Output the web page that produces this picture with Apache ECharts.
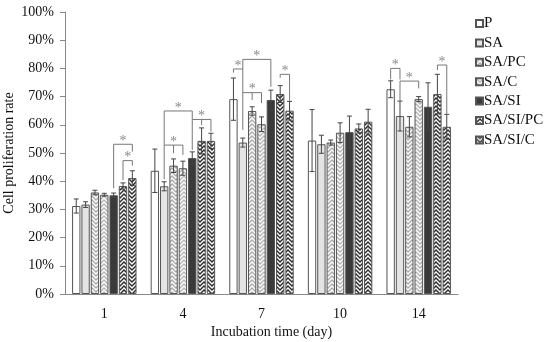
<!DOCTYPE html>
<html><head><meta charset="utf-8">
<script src="https://cdn.jsdelivr.net/npm/echarts@6/dist/echarts.min.js"></script>
<style>html,body{margin:0;padding:0;background:#fff}#c{width:550px;height:342px}</style>
</head><body><div id="c"></div>
<script>
// ---- data ----
const categories = ['1', '4', '7', '10', '14'];
const seriesNames = ['P', 'SA', 'SA/PC', 'SA/C', 'SA/SI', 'SA/SI/PC', 'SA/SI/C'];
const P        = [31.2, 43.7, 69.1, 54.4, 72.6];
const SA       = [31.7, 38.2, 53.7, 53.1, 63.1];
const SA_PC    = [36.0, 45.5, 64.9, 53.7, 59.3];
const SA_C     = [35.2, 44.6, 60.2, 57.2, 69.1];
const SA_SI    = [35.0, 48.2, 68.8, 57.4, 66.4];
const SA_SI_PC = [38.3, 54.3, 70.9, 58.7, 70.9];
const SA_SI_C  = [41.1, 54.3, 65.0, 61.1, 59.3];
const P_err        = [2.5, 7.7, 7.5, 11.0, 3.0];
const SA_err       = [1.0, 1.6, 1.6, 3.2, 5.3];
const SA_PC_err    = [0.8, 2.4, 1.5, 0.9, 3.6];
const SA_C_err     = [0.5, 2.5, 2.6, 3.5, 0.9];
const SA_SI_err    = [0.8, 2.2, 3.5, 5.7, 8.5];
const SA_SI_PC_err = [1.1, 4.6, 3.0, 1.6, 7.0];
const SA_SI_C_err  = [2.6, 2.7, 3.3, 4.4, 4.4];
const yTicks = [0, 10, 20, 30, 40, 50, 60, 70, 80, 90, 100];
// significance brackets: category index, series legs, top value, leg bottom values
const bracketCats    = [0, 0, 1, 1, 1, 2, 2, 2, 2, 4, 4, 4];
const bracketLegs    = [[4, 6], [5, 6], [1, 4], [1, 2, 3], [4, 5, 6], [0, 1], [1, 4], [1, 2, 3], [5, 6], [0, 1], [1, 3], [5, 6]];
const bracketTops    = [53.1, 47.3, 64.9, 52.8, 61.9, 79.8, 83.2, 71.4, 77.9, 80.0, 75.5, 81.2];
const bracketBottoms = [[37.5, 50.5], [40.4, 45.5], [52.8, 61.9], [40.7, 49.9, 49.3], [51.1, 59.9, 57.6],
                        [78.5, 58.2], [79.8, 73.5], [71.4, 68.8, 67.7], [76.7, 68.5],
                        [76.1, 76.1], [68.2, 72.9], [79.4, 63.5]];

const values = [P, SA, SA_PC, SA_C, SA_SI, SA_SI_PC, SA_SI_C];
const errors = [P_err, SA_err, SA_PC_err, SA_C_err, SA_SI_err, SA_SI_PC_err, SA_SI_C_err];

// ---- patterns ----
function chevron(bg, fg, up) {
  const c = document.createElement('canvas');
  c.width = 8; c.height = 4;
  const ctx = c.getContext('2d');
  ctx.fillStyle = bg; ctx.fillRect(0, 0, 8, 4);
  ctx.strokeStyle = fg; ctx.lineWidth = 1.4;
  for (const dy of [-4, 0, 4]) {
    ctx.beginPath();
    if (up) { ctx.moveTo(-1, 5 + dy); ctx.lineTo(4, dy); ctx.lineTo(9, 5 + dy); }
    else { ctx.moveTo(-1, -1 + dy); ctx.lineTo(4, 4 + dy); ctx.lineTo(9, -1 + dy); }
    ctx.stroke();
  }
  return { image: c, repeat: 'repeat' };
}
const fills = [
  '#ffffff',
  '#e4e4e4',
  chevron('#ffffff', '#a8a8a8', true),
  chevron('#ffffff', '#b4b4b4', false),
  '#3a3a3a',
  chevron('#2e2e2e', '#ffffff', true),
  chevron('#2e2e2e', '#ffffff', false)
];

const CAT_GAP = 0.18, BAR_GAP = 0.12, N = seriesNames.length;
function barOffset(band, s) {
  const usable = band * (1 - CAT_GAP);
  const bw = usable / (N + (N - 1) * BAR_GAP);
  return -usable / 2 + s * bw * (1 + BAR_GAP) + bw / 2;
}

const FONT = 'Liberation Serif';
const series = seriesNames.map((name, s) => ({
  name, type: 'bar', data: values[s],
  barCategoryGap: (CAT_GAP * 100) + '%', barGap: (BAR_GAP * 100) + '%',
  itemStyle: { color: fills[s], borderColor: '#555', borderWidth: 1 },
  z: 2
}));

const errData = [];
values.forEach((arr, s) => arr.forEach((v, c) => errData.push([c, v, errors[s][c], s])));
series.push({
  type: 'custom', name: 'err', z: 5, silent: true, data: errData,
  renderItem(params, api) {
    const c = api.value(0), v = api.value(1), e = api.value(2), s = api.value(3);
    const band = api.size([1, 0])[0];
    const x = api.coord([c, 0])[0] + barOffset(band, s);
    const yh = api.coord([c, v + e])[1], yl = api.coord([c, v - e])[1];
    const st = { stroke: '#444', lineWidth: 1 };
    return { type: 'group', children: [
      { type: 'line', shape: { x1: x, y1: yh, x2: x, y2: yl }, style: st },
      { type: 'line', shape: { x1: x - 2.5, y1: yh, x2: x + 2.5, y2: yh }, style: st },
      { type: 'line', shape: { x1: x - 2.5, y1: yl, x2: x + 2.5, y2: yl }, style: st }
    ]};
  }
});
series.push({
  type: 'custom', name: 'sig', z: 6, silent: true,
  data: bracketCats.map((c, i) => [c, bracketTops[i]]),
  renderItem(params, api) {
    const i = params.dataIndex, c = bracketCats[i];
    const band = api.size([1, 0])[0];
    const cx = api.coord([c, 0])[0];
    const yTop = api.coord([c, bracketTops[i]])[1];
    const xs = bracketLegs[i].map(s => cx + barOffset(band, s));
    const st = { stroke: '#777', lineWidth: 1 };
    const ch = [{ type: 'line', shape: { x1: xs[0], y1: yTop, x2: xs[xs.length - 1], y2: yTop }, style: st }];
    xs.forEach((x, k) => {
      const yb = api.coord([c, bracketBottoms[i][k]])[1];
      ch.push({ type: 'line', shape: { x1: x, y1: yTop, x2: x, y2: yb }, style: st });
    });
    ch.push({ type: 'text', style: { text: '*', x: (xs[0] + xs[xs.length - 1]) / 2, y: yTop - 3,
      fill: '#888', font: '14px "Liberation Serif"', textAlign: 'center', textVerticalAlign: 'middle' } });
    return { type: 'group', children: ch };
  }
});

const chart = echarts.init(document.getElementById('c'), null, { renderer: 'canvas' });
chart.setOption({
  animation: false,
  textStyle: { fontFamily: FONT },
  grid: { left: 65, right: 92, top: 12, bottom: 48, containLabel: false, outerBoundsMode: 'none' },
  legend: {
    data: seriesNames, orient: 'vertical', left: 470, top: 11,
    itemWidth: 7, itemHeight: 7, itemGap: 4.4, icon: 'rect',
    textStyle: { fontFamily: FONT, fontSize: 15, color: '#111', lineHeight: 15, padding: [0, 0, 0, -4] }
  },
  xAxis: {
    type: 'category', data: categories,
    axisLine: { lineStyle: { color: '#888', width: 1 } },
    axisTick: { show: false },
    axisLabel: { fontFamily: FONT, fontSize: 14, color: '#111', margin: 13 },
    name: 'Incubation time (day)', nameLocation: 'middle', nameGap: 31, nameMoveOverlap: false,
    nameTextStyle: { fontFamily: FONT, fontSize: 14, color: '#111', padding: [0, 0, 0, 20] }
  },
  yAxis: {
    type: 'value', min: yTicks[0], max: yTicks[yTicks.length - 1], interval: 10,
    splitLine: { show: false },
    axisLine: { show: true, lineStyle: { color: '#888', width: 1 } },
    axisTick: { show: true, inside: false, length: 5, lineStyle: { color: '#888' } },
    axisLabel: { fontFamily: FONT, fontSize: 14, color: '#111', margin: 11, formatter: '{value}%' },
    name: 'Cell proliferation rate', nameLocation: 'middle', nameGap: 49, nameMoveOverlap: false,
    nameTextStyle: { fontFamily: FONT, fontSize: 14, color: '#111' }
  },
  series
});
</script></body></html>
